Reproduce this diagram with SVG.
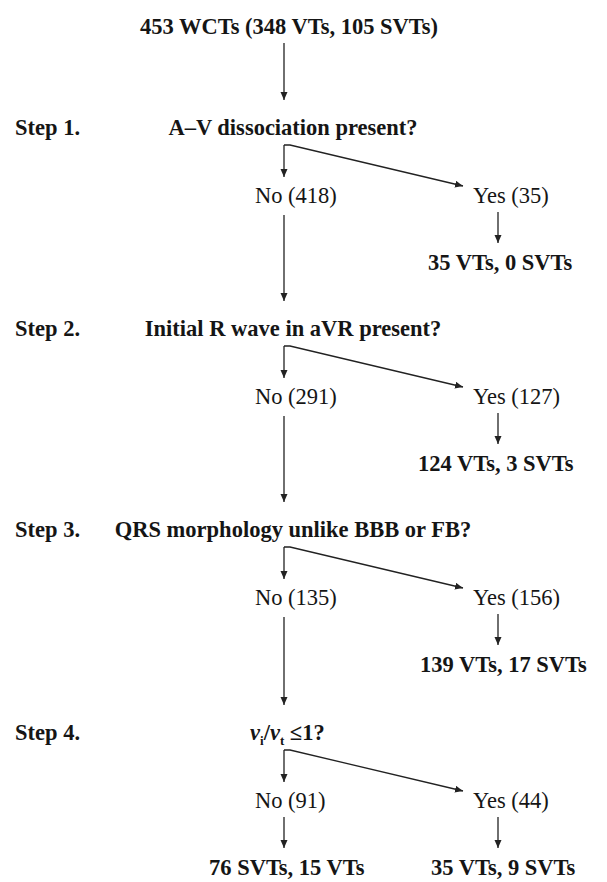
<svg xmlns="http://www.w3.org/2000/svg" width="607" height="882" viewBox="0 0 607 882">
<style>
text{font-family:"Liberation Serif","Times New Roman",serif;font-size:22.5px;fill:#151515}
.b{font-weight:bold}
.r{font-weight:normal}
.q{text-anchor:middle;font-weight:bold}
.c{fill:none;stroke:#222;stroke-width:1.3}
</style>
<defs>
<marker id="ah" markerUnits="userSpaceOnUse" markerWidth="9" markerHeight="8" refX="8" refY="3.5" orient="auto">
<path d="M0,0 L8,3.5 L0,7 z" fill="#222"/>
</marker>
</defs>
<rect width="607" height="882" fill="#fff"/>
<g id="connectors">
<path class="c" d="M284,43 V100" marker-end="url(#ah)"/>
<path class="c" d="M284,145 V177" marker-end="url(#ah)"/>
<path class="c" d="M284,145 H290 L463,186" marker-end="url(#ah)"/>
<path class="c" d="M498,212 V243" marker-end="url(#ah)"/>
<path class="c" d="M284,215 V301" marker-end="url(#ah)"/>
<path class="c" d="M284,346 V378" marker-end="url(#ah)"/>
<path class="c" d="M284,346 H290 L463,387" marker-end="url(#ah)"/>
<path class="c" d="M498,413 V444" marker-end="url(#ah)"/>
<path class="c" d="M284,416 V502" marker-end="url(#ah)"/>
<path class="c" d="M284,547 V579" marker-end="url(#ah)"/>
<path class="c" d="M284,547 H290 L463,588" marker-end="url(#ah)"/>
<path class="c" d="M498,614 V645" marker-end="url(#ah)"/>
<path class="c" d="M284,617 V705" marker-end="url(#ah)"/>
<path class="c" d="M284,750 V782" marker-end="url(#ah)"/>
<path class="c" d="M284,750 H290 L463,791" marker-end="url(#ah)"/>
<path class="c" d="M284,817 V848" marker-end="url(#ah)"/>
<path class="c" d="M498,817 V848" marker-end="url(#ah)"/>
</g>
<g id="start"><text class="b" x="140" y="34">453 WCTs (348 VTs, 105 SVTs)</text></g>
<g id="step1">
<text class="b" x="15" y="135">Step 1.</text>
<text class="q" x="293" y="135">A–V dissociation present?</text>
</g>
<g id="no1"><text class="r" x="255" y="203">No (418)</text></g>
<g id="yes1"><text class="r" x="473" y="203">Yes (35)</text></g>
<g id="res1"><text class="b" x="428" y="270">35 VTs, 0 SVTs</text></g>
<g id="step2">
<text class="b" x="15" y="336">Step 2.</text>
<text class="q" x="293" y="336">Initial R wave in aVR present?</text>
</g>
<g id="no2"><text class="r" x="255" y="404">No (291)</text></g>
<g id="yes2"><text class="r" x="473" y="404">Yes (127)</text></g>
<g id="res2"><text class="b" x="418" y="471">124 VTs, 3 SVTs</text></g>
<g id="step3">
<text class="b" x="15" y="537">Step 3.</text>
<text class="q" x="293" y="537">QRS morphology unlike BBB or FB?</text>
</g>
<g id="no3"><text class="r" x="255" y="605">No (135)</text></g>
<g id="yes3"><text class="r" x="473" y="605">Yes (156)</text></g>
<g id="res3"><text class="b" x="420" y="672">139 VTs, 17 SVTs</text></g>
<g id="step4">
<text class="b" x="15" y="740">Step 4.</text>
<text class="b" x="250" y="740"><tspan font-style="italic">v</tspan><tspan font-size="13" dy="5">i</tspan><tspan dy="-5">/</tspan><tspan font-style="italic">v</tspan><tspan font-size="13" dy="5">t</tspan><tspan dy="-5"> ≤1?</tspan></text>
</g>
<g id="no4"><text class="r" x="255" y="808">No (91)</text></g>
<g id="yes4"><text class="r" x="473" y="808">Yes (44)</text></g>
<g id="res4no"><text class="b" x="209" y="875">76 SVTs, 15 VTs</text></g>
<g id="res4yes"><text class="b" x="431" y="875">35 VTs, 9 SVTs</text></g>
</svg>
